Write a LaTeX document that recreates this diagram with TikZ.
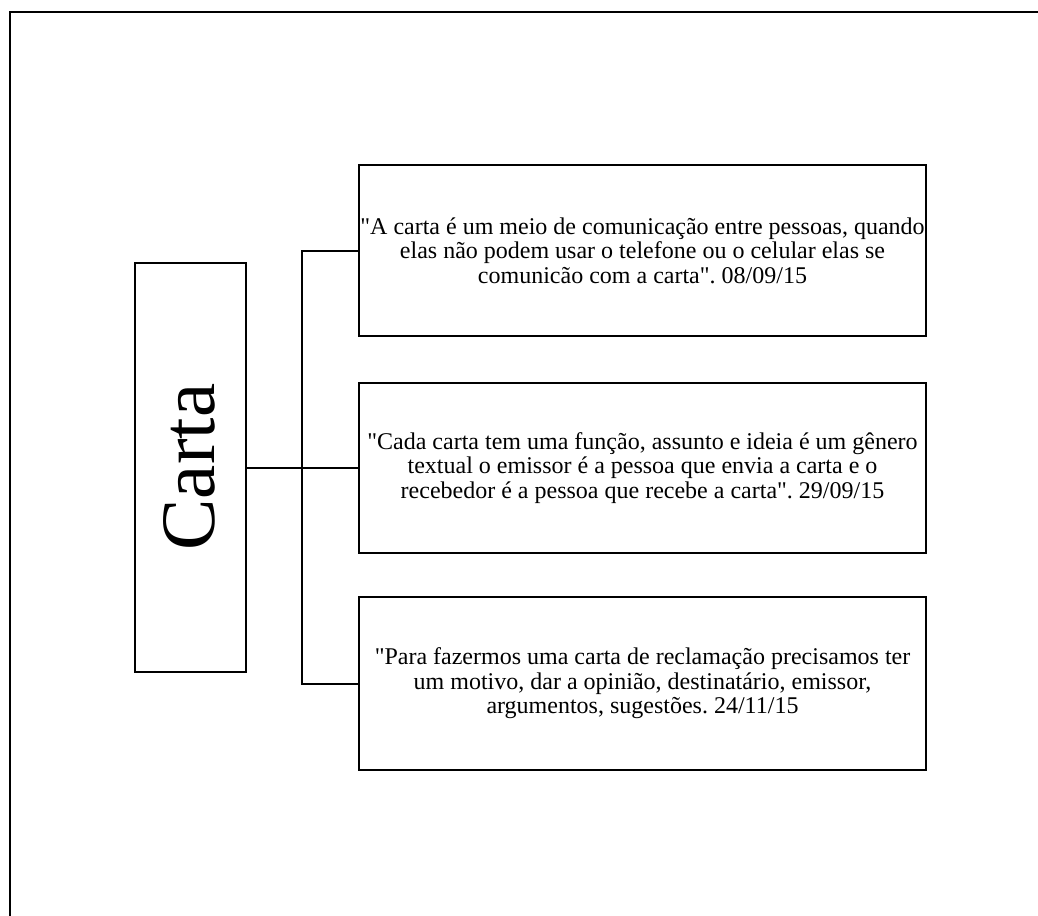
\documentclass[tikz,border=0pt]{standalone}
\usepackage{fontspec}
\setmainfont{Liberation Serif}[Ligatures=TeXOff]
\begin{document}
\frenchspacing
\begin{tikzpicture}[x=1pt,y=-1pt,
  frame/.style={line width=2pt},
  link/.style={line width=2pt},
  notebox/.style={draw,line width=2pt,inner sep=0pt,outer sep=0pt,
    minimum width=567pt,align=center,
    font=\fontsize{24}{24.6}\selectfont},
  titlebox/.style={draw,line width=2pt,inner sep=0pt,outer sep=0pt,
    minimum width=111pt,minimum height=409pt}]
\useasboundingbox (0,0) rectangle (1038,915);
\clip (0,0) rectangle (1038,915);
% page frame, running off the right and bottom edges
\draw[frame] (10,12) rectangle (1060,940);

% title box with the rotated word
\node[titlebox] (carta) at (190.5,467.5) {};
\node[rotate=90,font=\fontsize{77}{80}\selectfont,inner sep=0pt] (cartatext) at (189,467) {Carta};

% the three notes
\node[notebox,minimum height=171pt] (n1) at (642.5,250.5)
  {"A carta é um meio de comunicação entre pessoas, quando\\
   elas não podem usar o telefone ou o celular elas se\\
   comunicão com a carta". 08/09/15};
\node[notebox,minimum height=170pt] (n2) at (642.5,468)
  {"Cada carta tem uma função, assunto e ideia é um gênero\\
   textual o emissor é a pessoa que envia a carta e o\\
   recebedor é a pessoa que recebe a carta". 29/09/15};
\node[notebox,minimum height=173pt] (n3) at (642.5,683.5)
  {"Para fazermos uma carta de reclamação precisamos ter\\
   um motivo, dar a opinião, destinatário, emissor,\\
   argumentos, sugestões. 24/11/15};

% connectors: a vertical bus feeding each note
\coordinate (bus) at (302,0);
\draw[link] (carta.east) -- (carta.east -| n2.west);
\draw[link] (n1.west) -- (n1.west -| bus) -- (n3.west -| bus) -- (n3.west);
\end{tikzpicture}
\end{document}
